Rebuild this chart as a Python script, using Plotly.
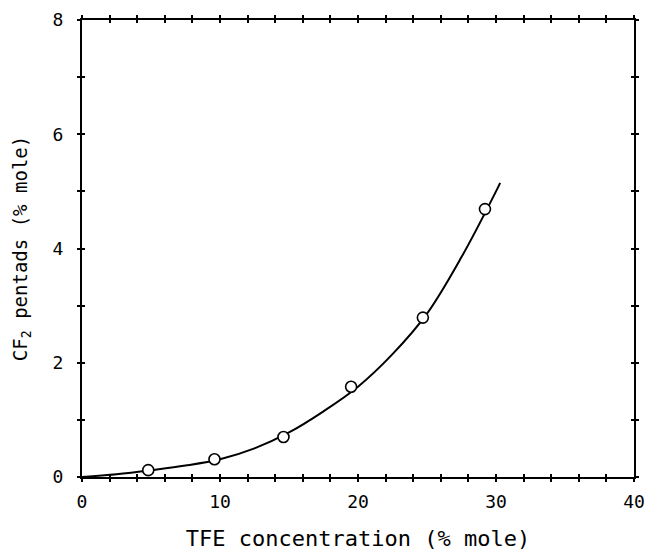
import plotly.graph_objects as go

# measured points
tfe_pts = [4.8, 9.6, 14.6, 19.5, 24.7, 29.2]
cf2_pts = [0.12, 0.31, 0.70, 1.58, 2.79, 4.69]

# fitted curve
curve_x = [0, 2.5, 5, 7.5, 10, 12.5, 15, 17.5, 20, 22.5, 25, 27.5, 30, 30.3]
curve_y = [0.0, 0.05, 0.12, 0.20, 0.31, 0.50, 0.78, 1.15, 1.58, 2.15, 2.86, 3.85, 5.0, 5.15]

x_ticks = [0, 10, 20, 30, 40]
y_ticks = [0, 2, 4, 6, 8]

FONT = "DejaVu Sans Mono"

fig = go.Figure()
fig.add_trace(go.Scatter(x=curve_x, y=curve_y, mode="lines",
                         line=dict(color="black", width=2, shape="spline"),
                         showlegend=False))
fig.add_trace(go.Scatter(x=tfe_pts, y=cf2_pts, mode="markers",
                         marker=dict(symbol="circle", size=11, color="white",
                                     line=dict(color="black", width=1.6)),
                         showlegend=False))
# dummy trace to activate overlay axes
fig.add_trace(go.Scatter(x=[None], y=[None], xaxis="x2", yaxis="y2", showlegend=False))

axis_common = dict(showgrid=False, zeroline=False, showline=True, linecolor="black",
                   linewidth=2, ticklen=3, tickwidth=1.5, tickcolor="black", mirror="ticks",
                   automargin=False)

fig.update_layout(
    width=650, height=552,
    margin=dict(l=82, r=16, t=20, b=75),
    paper_bgcolor="white", plot_bgcolor="white",
    font=dict(family=FONT, size=18, color="black"),
    xaxis=dict(range=[0, 40], tickvals=x_ticks, ticks="outside", ticklabelstandoff=4,
               minor=dict(dtick=2, ticks="outside", ticklen=3, tickwidth=1.5, tickcolor="black"),
               title=dict(text="TFE concentration (% mole)", standoff=20,
                          font=dict(family=FONT, size=22)),
               tickfont=dict(family=FONT, size=18), **axis_common),
    yaxis=dict(range=[0, 8], tickvals=y_ticks, ticks="outside", ticklabelstandoff=10,
               minor=dict(dtick=1, ticks="outside", ticklen=3, tickwidth=1.5, tickcolor="black"),
               title=dict(text="CF<sub>2</sub> pentads (% mole)", standoff=20,
                          font=dict(family=FONT, size=19)),
               tickfont=dict(family=FONT, size=18), **axis_common),
    xaxis2=dict(overlaying="x", matches="x", range=[0, 40], tickvals=x_ticks, ticks="inside",
                showticklabels=False,
                minor=dict(dtick=2, ticks="inside", ticklen=3, tickwidth=1.5, tickcolor="black"),
                **axis_common),
    yaxis2=dict(overlaying="y", matches="y", range=[0, 8], tickvals=y_ticks, ticks="inside",
                showticklabels=False,
                minor=dict(dtick=1, ticks="inside", ticklen=3, tickwidth=1.5, tickcolor="black"),
                **axis_common),
)

fig.write_html("out.html")
